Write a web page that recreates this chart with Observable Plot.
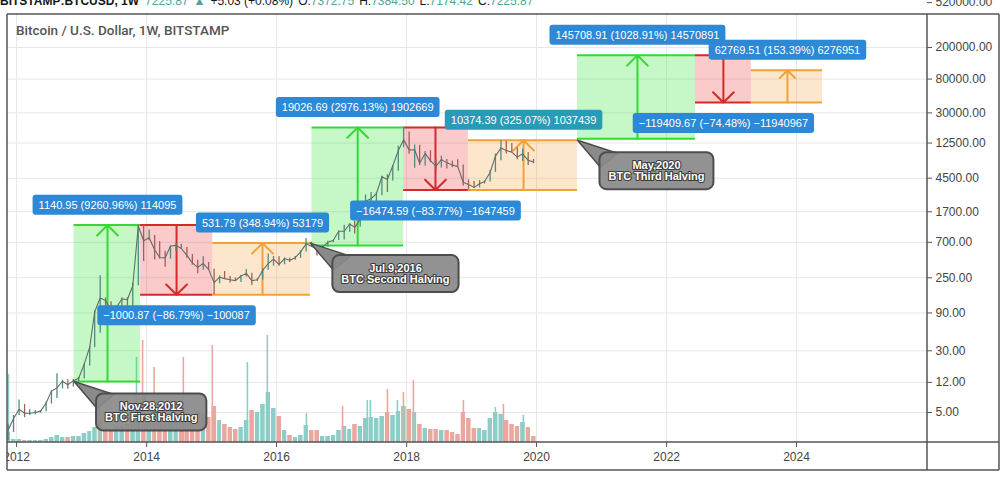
<!DOCTYPE html>
<html>
<head>
<meta charset="utf-8">
<script src="https://cdn.jsdelivr.net/npm/d3@7"></script>
<script src="https://cdn.jsdelivr.net/npm/@observablehq/plot@0.6"></script>
<style>
  html, body { margin:0; padding:0; background:#fff; }
  body { width:1006px; height:477px; overflow:hidden; position:relative; font-family:"Liberation Sans", Arial, sans-serif; }
  #wrap { position:absolute; left:0; top:0; width:1006px; height:477px; }
  #wrap > svg { position:absolute; left:0; top:0; }
  #legend { position:absolute; left:0; top:-5px; font-size:12px; line-height:12px; white-space:nowrap; color:#131722; z-index:5; }
  #legend b { font-weight:bold; margin-right:6px; }
  #legend span { margin-right:5px; }
  #legend .v { color:#4fa596; }
  #title { position:absolute; left:16px; top:22px; font-family:Roboto, sans-serif; font-weight:500; font-size:13.5px; color:#555; z-index:5; white-space:nowrap; }
</style>
</head>
<body>
<div id="wrap"></div>
<div id="legend"><b>BITSTAMP:BTCUSD, 1W</b><span class="v">7225.87</span><span class="v">▲</span><span>+5.03 (+0.08%)</span>O:<span class="v">7372.75</span>H:<span class="v">7384.50</span>L:<span class="v">7174.42</span>C:<span class="v">7225.87</span></div>
<div id="title">Bitcoin / U.S. Dollar, 1W, BITSTAMP</div>
<script>
// ---------------- data ----------------
// monthly bars Nov 2011 .. Dec 2019
const months = d3.utcMonths(new Date(Date.UTC(2011, 10, 1)), new Date(Date.UTC(2020, 0, 1)));
const closePrice = [3.0, 4.2,
  5.5, 4.9, 4.9, 5.0, 5.2, 6.6, 9.3, 10.2, 12.4, 11.2, 12.6, 13.5,
  20.4, 33.4, 93, 139, 129, 97, 106, 135, 133, 198, 1130, 732,
  800, 565, 450, 445, 630, 640, 585, 480, 386, 338, 378, 320,
  217, 254, 244, 236, 230, 263, 284, 230, 236, 311, 377, 430,
  368, 437, 416, 448, 531, 670, 624, 575, 608, 700, 742, 963,
  965, 1190, 1080, 1350, 2300, 2480, 2875, 4700, 4340, 6450, 10000, 13800,
  10200, 10300, 6930, 9240, 7500, 6400, 7730, 7030, 6625, 6300, 4000, 3740,
  3450, 3830, 4100, 5320, 8550, 10800, 10080, 9600, 8300, 9150, 7550, 7225];
const highPrice = [3.5, 4.6,
  7.2, 6.3, 5.4, 5.3, 5.3, 6.8, 9.4, 15.4, 12.8, 12.9, 13.0, 13.8,
  20.5, 33.5, 95, 266, 139, 125, 110, 140, 140, 215, 1153, 1150,
  1000, 850, 715, 540, 630, 680, 660, 600, 490, 415, 460, 390,
  320, 265, 300, 260, 248, 268, 317, 285, 245, 325, 500, 465,
  460, 445, 440, 465, 545, 780, 700, 625, 630, 720, 745, 975,
  1150, 1200, 1290, 1350, 2760, 2980, 2920, 4750, 4980, 6450, 11400, 19666,
  17200, 11800, 11700, 9750, 9990, 7770, 8500, 7750, 7400, 7680, 6600, 4300,
  4100, 4200, 4160, 5640, 9080, 13560, 13200, 12300, 10900, 10500, 9500, 7750];
const lowPrice = [2.2, 2.8,
  4.6, 4.3, 4.6, 4.7, 4.9, 5.1, 6.4, 7.5, 9.9, 9.8, 10.5, 12.3,
  13.2, 19.3, 33, 50, 97, 80, 65, 103, 109, 105, 198, 400,
  730, 420, 430, 340, 430, 540, 570, 440, 360, 280, 310, 310,
  153, 210, 240, 215, 228, 218, 255, 200, 225, 235, 310, 350,
  350, 365, 390, 415, 440, 530, 600, 470, 590, 605, 690, 740,
  750, 940, 890, 1080, 1350, 2200, 1830, 2700, 2970, 4150, 5500, 10900,
  9000, 6000, 6500, 6430, 7050, 5750, 6070, 5880, 6100, 6200, 3600, 3200,
  3340, 3380, 3800, 4030, 5320, 7500, 9070, 9350, 7700, 7300, 6500, 6850];
const monthlyVolume = [10, 3,
  3, 2, 2, 2, 2, 3, 5, 7, 5, 5, 6, 6,
  9, 11, 15, 24, 14, 13, 16, 16, 18, 24, 40, 48,
  38, 34, 28, 28, 22, 22, 20, 25, 28, 30, 28, 25,
  36, 22, 18, 15, 13, 15, 22, 32, 30, 38, 50, 34,
  26, 12, 7, 5, 7, 17, 12, 12, 6, 6, 7, 12,
  16, 13, 18, 16, 24, 25, 24, 26, 30, 27, 31, 36,
  33, 30, 18, 14, 13, 13, 12, 12, 10, 8, 30, 24,
  14, 14, 12, 24, 30, 28, 22, 18, 16, 20, 15, 6];
const spikeDate = ["2011-11-16", "2013-04-10", "2013-11-05", "2013-12-09", "2014-02-12", "2014-07-26", "2015-01-05",
  "2015-07-21", "2015-11-10", "2016-06-17", "2017-01-06", "2017-05-25", "2017-06-11", "2017-09-15", "2017-11-10",
  "2017-12-14", "2018-02-08", "2018-11-16", "2019-05-15", "2019-06-29", "2019-10-19"];
const spikeVolume = [68, 42, 85, 102, 75, 85, 97, 80, 107, 29, 36, 42, 42, 53, 42, 50, 62, 42, 35, 38, 27];
const spikeDir = ["up", "down", "up", "down", "down", "down", "down", "up", "up", "up", "down", "up", "up", "down", "up",
  "down", "down", "down", "up", "down", "up"];

// price-range measurements
const zoneKind = ["rise", "fall", "recover", "rise", "fall", "recover", "rise", "fall", "recover"];
const zoneStart = ["2012-11-19", "2013-11-28", "2015-01-08", "2016-07-18", "2017-12-15", "2018-12-14", "2020-08-18", "2022-06-12", "2023-04-22"];
const zoneEnd = ["2013-11-28", "2015-01-08", "2016-07-09", "2017-12-15", "2018-12-14", "2020-08-18", "2022-06-12", "2023-04-22", "2024-05-26"];
const zoneArrow = ["2013-05-26", "2014-06-18", "2015-10-14", "2017-04-01", "2018-06-12", "2019-10-20", "2021-07-21", "2022-11-16", "2023-11-11"];
const zoneLow = [12.32, 152.40, 152.40, 639.31, 3191.4, 3191.4, 14161, 40460, 40460];
const zoneHigh = [1153.27, 1153.27, 684.19, 19666, 19666, 13565.8, 159870, 159870, 103230];
const zoneLabel = ["1140.95 (9260.96%) 114095", "\u22121000.87 (\u221286.79%) \u2212100087", "531.79 (348.94%) 53179",
  "19026.69 (2976.13%) 1902669", "\u221216474.59 (\u221283.77%) \u22121647459", "10374.39 (325.07%) 1037439",
  "145708.91 (1028.91%) 14570891", "\u2212119409.67 (\u221274.48%) \u221211940967", "62769.51 (153.39%) 6276951"];

// halving callouts
const halvingDate = ["2012-11-19", "2016-07-09", "2020-08-18"];
const halvingPrice = [12.32, 684.19, 13565.8];
const halvingText = ["Nov.28,2012\nBTC First Halving", "Jul.9,2016\nBTC Second Halving", "May,2020\nBTC Third Halving"];

// axes
const yTicks = [520000, 200000, 80000, 30000, 12500, 4500, 1700, 700, 250, 90, 30, 12, 5];
const xTickYears = [2012, 2014, 2016, 2018, 2020, 2022, 2024];

// ---------------- styles ----------------
const W = 1006, H = 477;
const M = {marginLeft: 7, marginRight: 79, marginTop: 14, marginBottom: 35};
const xDomain = [new Date("2011-11-11"), new Date("2026-01-06")];
const xTickEnd = new Date("2026-02-03"); // 5px beyond the right edge, for the price-axis tick dashes
const yDomain = [2.093, 522000];
const kindFill = {rise: "#2ee02e", fall: "#f23a3a", recover: "#f7a543"};
const kindLine = {rise: "#35d935", fall: "#d42a2a", recover: "#f0a236"};
const labelFill = (i) => i === 5 ? "#2a9bb6" : "#2d88d6";
const volUp = "#8ecdc7", volDown = "#eaa79f";
const font = "Liberation Sans, Arial, sans-serif";

// ---------------- tables ----------------
const price = months.map((m, i) => ({date: d3.utcDay.offset(m, 14), close: closePrice[i], high: highPrice[i], low: lowPrice[i],
  up: i === 0 ? true : closePrice[i] >= closePrice[i - 1]}));
const vol = months.map((m, i) => ({x1: m < xDomain[0] ? xDomain[0] : m, x2: d3.utcMonth.offset(m, 1), v: monthlyVolume[i], up: price[i].up}));
const spikes = spikeDate.map((d, i) => ({date: new Date(d), v: spikeVolume[i], dir: spikeDir[i]}));
const zones = zoneKind.map((k, i) => ({idx: i, kind: k, start: new Date(zoneStart[i]), end: new Date(zoneEnd[i]),
  arrow: new Date(zoneArrow[i]), low: zoneLow[i], high: zoneHigh[i], label: zoneLabel[i]}));
const upZones = zones.filter(d => d.kind !== "fall");
const downZones = zones.filter(d => d.kind === "fall");
const halvings = halvingDate.map((d, i) => ({date: new Date(d), price: halvingPrice[i], text: halvingText[i]}));
const xTicks = xTickYears.map(y => new Date(Date.UTC(y, 0, 1)));
const yTickTable = yTicks.map((v, i) => ({v, top: i === 0}));

// ---------------- layers ----------------
const wrap = document.getElementById("wrap");
const base = {width: W, height: H, ...M};

const gridPlot = Plot.plot({
  ...base,
  x: {type: "utc", domain: xDomain},
  y: {type: "log", domain: yDomain, axis: null},
  style: {background: "white", color: "#444", fontFamily: font, fontSize: "12px", overflow: "visible"},
  marks: [
    Plot.ruleX(xTicks, {stroke: "#e7e7e7"}),
    Plot.ruleY(yTicks.slice(1), {stroke: "#e7e7e7"}),
    Plot.axisX(xTicks, {tickFormat: "%Y", tickSize: 5, tickPadding: 5, fontSize: 12, label: null, stroke: "#555"}),
    // price axis (right): dashes + labels
    Plot.ruleY(yTickTable.filter(d => !d.top), {y: "v", x1: () => xDomain[1], x2: () => xTickEnd, stroke: "#555"}),
    Plot.ruleY(yTickTable.filter(d => d.top), {y: "v", x1: () => xDomain[1], x2: () => xTickEnd, stroke: "#555", dy: -12}),
    Plot.text(yTickTable.filter(d => !d.top), {x: () => xDomain[1], y: "v", text: d => d.v.toFixed(2), dx: 8, textAnchor: "start", fontSize: 12, fill: "#444"}),
    Plot.text(yTickTable.filter(d => d.top), {x: () => xDomain[1], y: "v", text: d => d.v.toFixed(2), dx: 8, dy: -12, textAnchor: "start", fontSize: 12, fill: "#444"})
  ]
});

const volPlot = Plot.plot({
  width: W, height: H, marginLeft: M.marginLeft, marginRight: M.marginRight,
  marginTop: H - M.marginBottom - 110, marginBottom: M.marginBottom,
  x: {type: "utc", domain: xDomain, axis: null},
  y: {domain: [0, 110], axis: null},
  color: {type: "identity"},
  style: {background: "transparent"},
  marks: [
    Plot.rect(vol, {x1: "x1", x2: "x2", y1: 0, y2: "v", fill: d => d.up ? volUp : volDown, insetLeft: 0.5, insetRight: 0.5}),
    Plot.ruleX(spikes, {x: "date", y1: 0, y2: "v", stroke: d => d.dir === "up" ? volUp : volDown, strokeWidth: 1.6})
  ]
});

const mainPlot = Plot.plot({
  ...base,
  x: {type: "utc", domain: xDomain, axis: null},
  y: {type: "log", domain: yDomain, axis: null},
  color: {type: "identity"},
  style: {background: "transparent", overflow: "visible", fontFamily: font},
  marks: [
    Plot.rect(zones, {x1: "start", x2: "end", y1: "low", y2: "high", fill: d => kindFill[d.kind], fillOpacity: 0.27}),
    Plot.ruleY(zones, {x1: "start", x2: "end", y: "high", stroke: d => kindLine[d.kind], strokeWidth: 2}),
    Plot.ruleY(zones, {x1: "start", x2: "end", y: "low", stroke: d => kindLine[d.kind], strokeWidth: 2}),
    Plot.arrow(zones, {x: "arrow", y1: d => d.kind === "fall" ? d.high : d.low, y2: d => d.kind === "fall" ? d.low : d.high,
      stroke: d => kindLine[d.kind], strokeWidth: 2, headAngle: 90, headLength: 11}),
    Plot.ruleX(price, {x: "date", y1: "low", y2: "high", stroke: d => d.up ? "#4e8d80" : "#a3605a", strokeWidth: 1.3}),
    Plot.line(price, {x: "date", y: "close", stroke: "#646c69", strokeWidth: 1.1}),
    Plot.text(upZones, {x: "arrow", y: "high", text: "label", dy: -20, fill: "white", fontSize: 11}),
    Plot.text(downZones, {x: "arrow", y: "low", text: "label", dy: 21, fill: "white", fontSize: 11}),
    Plot.text(halvings, {x: "date", y: "price", text: "text", fill: "white", stroke: "#3c3c3c", strokeWidth: 2.2,
      paintOrder: "stroke", fontSize: 11, fontWeight: "bold", lineHeight: 1.0})
  ]
});

wrap.append(gridPlot, volPlot, mainPlot);

// ---------------- decorations (label boxes, callouts, frame) ----------------
const ns = "http://www.w3.org/2000/svg";
function el(tag, attrs) { const e = document.createElementNS(ns, tag); for (const k in attrs) e.setAttribute(k, attrs[k]); return e; }
function tr(t) {
  const m = /translate\(\s*([-\d.e]+)[ ,]+([-\d.e]+)\s*\)/.exec(t.getAttribute("transform") || "");
  return m ? [+m[1], +m[2]] : [0, 0];
}
const textGroups = mainPlot.querySelectorAll('g[aria-label="text"]');
const [gUp, gDown, gCall] = textGroups;
function boxLabels(g, list) {
  if (!g) return;
  g.querySelectorAll("text").forEach(t => {
    const d = list[t.__data__];
    const bb = t.getBBox(); const [tx, ty] = tr(t);
    g.insertBefore(el("rect", {x: tx + bb.x - 6, y: ty + bb.y - 4, width: bb.width + 12, height: bb.height + 8,
      rx: 3, fill: labelFill(d ? d.idx : -1), stroke: "none"}), t);
  });
}
boxLabels(gUp, upZones);
boxLabels(gDown, downZones);
if (gCall) {
  gCall.querySelectorAll("text").forEach(t => {
    const bb = t.getBBox(); const [ax, ay] = tr(t);
    const padX = 9, padY = 7;
    const w = bb.width + 2 * padX, h = bb.height + 2 * padY;
    const left = ax + 22, top = ay + 12;
    const nx = left + w / 2 - (bb.x + bb.width / 2), ny = top + h / 2 - (bb.y + bb.height / 2);
    t.setAttribute("transform", `translate(${nx},${ny})`);
    gCall.insertBefore(el("polygon", {points: `${ax},${ay} ${left + 18},${top + 1} ${left + 1},${top + 15}`,
      fill: "#8a8a8a", stroke: "#4d4d4d", "stroke-width": 1.5, "paint-order": "normal"}), t);
    gCall.insertBefore(el("rect", {x: left, y: top, width: w, height: h, rx: 7, fill: "#8a8a8a", "fill-opacity": 0.93,
      stroke: "#4d4d4d", "stroke-width": 2, "paint-order": "normal"}), t);
  });
}
const L = M.marginLeft, R = W - M.marginRight, T = M.marginTop, B = H - M.marginBottom;
const RO = W - 7, BO = H - 7;
mainPlot.appendChild(el("rect", {x: 0, y: B + 1, width: L - 0.5, height: H - B, fill: "white"}));
[[L, T, RO, T], [L, T, L, BO], [R, T, R, BO], [RO, T, RO, BO], [L, B, RO, B], [L, BO, RO, BO]].forEach(([x1, y1, x2, y2]) =>
  mainPlot.appendChild(el("line", {x1, y1, x2, y2, stroke: "#555", "stroke-width": 1.5})));
</script>
</body>
</html>
